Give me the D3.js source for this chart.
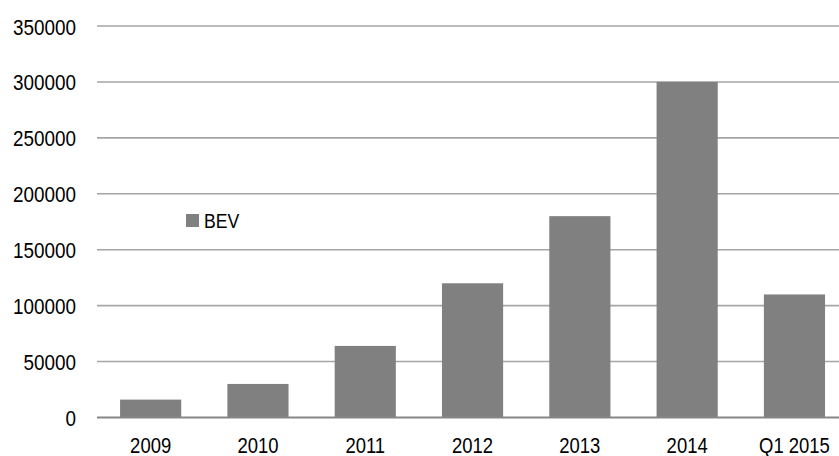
<!DOCTYPE html>
<html>
<head>
<meta charset="utf-8">
<script src="https://cdn.jsdelivr.net/npm/d3@7"></script>
<style>
  body { margin: 0; background: #fff; }
  svg text { font-family: "Liberation Sans", Arial, sans-serif; }
</style>
</head>
<body>
<div id="plotarea"></div>
<script>
// data
var categories = ["2009", "2010", "2011", "2012", "2013", "2014", "Q1 2015"];
var bevValues = [16000, 30000, 64000, 120000, 180000, 300000, 110000];
var yTicks = [0, 50000, 100000, 150000, 200000, 250000, 300000, 350000];
var seriesName = "BEV";

var width = 839, height = 456;
var margin_left = 97, margin_top = 26, plot_bottom = 417.5;
// labels in the original look a bit squeezed sideways
var squeeze = 0.84;

var svg = d3.select("#plotarea").append("svg")
  .attr("width", width)
  .attr("height", height);

var x_axis = d3.scaleBand()
  .domain(categories)
  .range([margin_left, margin_left + 7 * 107.3])
  .paddingInner(0.43)
  .paddingOuter(0.215);

var y_axis = d3.scaleLinear()
  .domain([0, 350000])
  .range([plot_bottom, margin_top]);

// gridlines
svg.append("g")
  .selectAll("line")
  .data(yTicks.slice(1))
  .enter().append("line")
  .attr("x1", margin_left)
  .attr("x2", width)
  .attr("y1", function(d) { return y_axis(d); })
  .attr("y2", function(d) { return y_axis(d); })
  .attr("stroke", "#a6a6a6")
  .attr("stroke-width", 1.6);

// y tick labels
svg.append("g")
  .selectAll("text")
  .data(yTicks)
  .enter().append("text")
  .attr("transform", function(d) { return "translate(76," + (y_axis(d) + 8.5) + ") scale(" + squeeze + ",1)"; })
  .attr("text-anchor", "end")
  .attr("font-size", 22.5)
  .attr("fill", "#000")
  .text(function(d) { return d; });

// bars
svg.selectAll(".bar")
  .data(bevValues)
  .enter().append("rect")
  .attr("class", "bar")
  .attr("x", function(d, i) { return x_axis(categories[i]); })
  .attr("y", function(d) { return y_axis(d); })
  .attr("width", x_axis.bandwidth())
  .attr("height", function(d) { return plot_bottom - y_axis(d); })
  .attr("fill", "#808080");

// baseline
svg.append("line")
  .attr("x1", margin_left)
  .attr("x2", width)
  .attr("y1", plot_bottom)
  .attr("y2", plot_bottom)
  .attr("stroke", "#868686")
  .attr("stroke-width", 2);

// x labels
svg.append("g")
  .selectAll("text")
  .data(categories)
  .enter().append("text")
  .attr("transform", function(d) { return "translate(" + (x_axis(d) + x_axis.bandwidth() / 2) + ",453) scale(" + squeeze + ",1)"; })
  .attr("text-anchor", "middle")
  .attr("font-size", 22)
  .attr("fill", "#000")
  .text(function(d) { return d; });

// legend
var legend = svg.append("g").attr("transform", "translate(186,214)");
legend.append("rect")
  .attr("width", 13)
  .attr("height", 13)
  .attr("fill", "#808080");
legend.append("text")
  .attr("transform", "translate(18,14) scale(" + squeeze + ",1)")
  .attr("font-size", 21)
  .attr("fill", "#000")
  .text(seriesName);
</script>
</body>
</html>
